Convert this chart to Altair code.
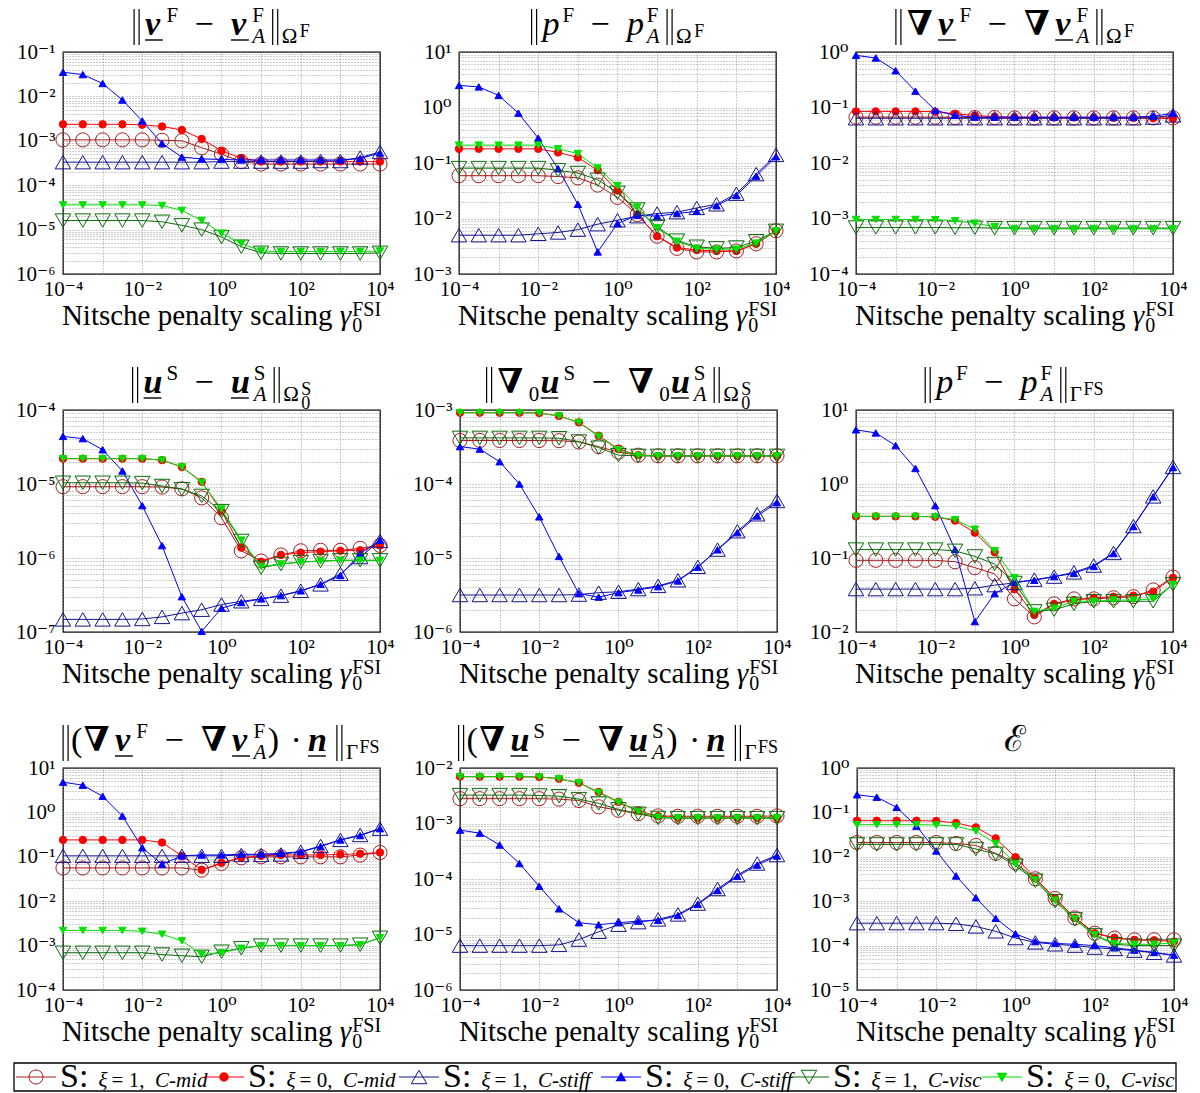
import math
import altair as alt
import pandas as pd

# ---------------------------------------------------------------- data
X_GAMMA = [0.0001, 0.000316, 0.001, 0.00316, 0.01, 0.0316, 0.1, 0.316, 1, 3.16,
           10, 31.6, 100, 316, 1000, 3160, 10000]

SERIES = ["xi1_mid", "xi0_mid", "xi1_stiff", "xi0_stiff", "xi1_visc", "xi0_visc"]

ERR_V_FLUID = {
    "xi1_mid": [1.05e-3, 1.05e-3, 1.05e-3, 1.05e-3, 1.05e-3, 1.03e-3, 1.0e-3, 7.0e-4, 5.0e-4, 3.4e-4, 3.0e-4, 3.0e-4, 3.0e-4, 3.0e-4, 3.0e-4, 3.0e-4, 3.0e-4],
    "xi0_mid": [2.35e-3, 2.35e-3, 2.35e-3, 2.35e-3, 2.3e-3, 2.1e-3, 1.75e-3, 1.1e-3, 5.9e-4, 4.1e-4, 3.4e-4, 3.4e-4, 3.4e-4, 3.4e-4, 3.4e-4, 3.4e-4, 3.4e-4],
    "xi1_stiff": [3.3e-4, 3.3e-4, 3.3e-4, 3.3e-4, 3.3e-4, 3.3e-4, 3.3e-4, 3.3e-4, 3.4e-4, 3.4e-4, 3.4e-4, 3.4e-4, 3.4e-4, 3.5e-4, 3.5e-4, 4.2e-4, 5.6e-4],
    "xi0_stiff": [3.5e-2, 3.1e-2, 1.95e-2, 8.3e-3, 2.8e-3, 8.7e-4, 4.3e-4, 3.9e-4, 3.8e-4, 3.7e-4, 3.7e-4, 3.7e-4, 3.7e-4, 3.7e-4, 3.7e-4, 4.0e-4, 5.3e-4],
    "xi1_visc": [1.6e-5, 1.6e-5, 1.6e-5, 1.6e-5, 1.6e-5, 1.5e-5, 1.25e-5, 1.0e-5, 6.8e-6, 4.1e-6, 3.0e-6, 2.9e-6, 2.9e-6, 2.9e-6, 2.9e-6, 2.9e-6, 3.0e-6],
    "xi0_visc": [3.6e-5, 3.6e-5, 3.6e-5, 3.6e-5, 3.6e-5, 3.5e-5, 2.7e-5, 1.6e-5, 8.3e-6, 4.9e-6, 3.3e-6, 3.2e-6, 3.2e-6, 3.2e-6, 3.2e-6, 3.2e-6, 3.3e-6],
}
ERR_P_FLUID = {
    "xi1_mid": [0.059, 0.059, 0.059, 0.059, 0.059, 0.057, 0.054, 0.040, 0.024, 0.0118, 0.0048, 0.0029, 0.0025, 0.0025, 0.0026, 0.0035, 0.006],
    "xi0_mid": [0.18, 0.18, 0.18, 0.18, 0.18, 0.155, 0.126, 0.074, 0.032, 0.0118, 0.0048, 0.0030, 0.0027, 0.0026, 0.0026, 0.0035, 0.006],
    "xi1_stiff": [0.005, 0.005, 0.005, 0.005, 0.0053, 0.0056, 0.0063, 0.0079, 0.0093, 0.011, 0.0123, 0.013, 0.0155, 0.018, 0.028, 0.063, 0.14],
    "xi0_stiff": [2.5, 2.35, 1.65, 0.79, 0.28, 0.079, 0.018, 0.0025, 0.0081, 0.0115, 0.011, 0.0123, 0.0135, 0.017, 0.026, 0.058, 0.13],
    "xi1_visc": [0.081, 0.081, 0.081, 0.081, 0.081, 0.074, 0.066, 0.05, 0.029, 0.0145, 0.0071, 0.004, 0.0031, 0.0029, 0.003, 0.0039, 0.006],
    "xi0_visc": [0.21, 0.21, 0.21, 0.21, 0.21, 0.18, 0.148, 0.081, 0.039, 0.016, 0.0068, 0.0039, 0.0029, 0.0028, 0.0028, 0.0036, 0.006],
}
ERR_GRADV_FLUID = {
    "xi1_mid": [0.067, 0.067, 0.067, 0.067, 0.067, 0.066, 0.066, 0.066, 0.065, 0.065, 0.065, 0.065, 0.065, 0.065, 0.065, 0.065, 0.065],
    "xi0_mid": [0.085, 0.085, 0.085, 0.085, 0.084, 0.077, 0.072, 0.068, 0.067, 0.066, 0.066, 0.066, 0.066, 0.065, 0.065, 0.064, 0.063],
    "xi1_stiff": [0.064, 0.064, 0.064, 0.064, 0.064, 0.064, 0.064, 0.064, 0.064, 0.064, 0.064, 0.064, 0.064, 0.064, 0.064, 0.066, 0.072],
    "xi0_stiff": [0.87, 0.78, 0.46, 0.197, 0.089, 0.072, 0.067, 0.067, 0.067, 0.067, 0.067, 0.067, 0.067, 0.067, 0.067, 0.070, 0.078],
    "xi1_visc": [6.9e-4, 6.9e-4, 6.9e-4, 6.9e-4, 6.9e-4, 6.8e-4, 6.8e-4, 6.7e-4, 6.7e-4, 6.7e-4, 6.7e-4, 6.7e-4, 6.7e-4, 6.7e-4, 6.7e-4, 6.7e-4, 6.7e-4],
    "xi0_visc": [9.6e-4, 9.6e-4, 9.6e-4, 9.6e-4, 9.5e-4, 9.1e-4, 8.2e-4, 7.1e-4, 6.5e-4, 6.5e-4, 6.5e-4, 6.5e-4, 6.5e-4, 6.5e-4, 6.5e-4, 6.5e-4, 6.5e-4],
}
ERR_U_SOLID = {
    "xi1_mid": [9.2e-6, 9.2e-6, 9.2e-6, 9.2e-6, 9.2e-6, 9.1e-6, 8.6e-6, 6.5e-6, 3.5e-6, 1.25e-6, 9.1e-7, 1.1e-6, 1.25e-6, 1.27e-6, 1.27e-6, 1.35e-6, 1.48e-6],
    "xi0_mid": [2.2e-5, 2.2e-5, 2.2e-5, 2.2e-5, 2.2e-5, 2.1e-5, 1.7e-5, 1.07e-5, 4.3e-6, 1.38e-6, 8.9e-7, 1.1e-6, 1.18e-6, 1.22e-6, 1.25e-6, 1.27e-6, 1.48e-6],
    "xi1_stiff": [1.48e-7, 1.48e-7, 1.48e-7, 1.48e-7, 1.5e-7, 1.6e-7, 1.8e-7, 2.0e-7, 2.35e-7, 2.6e-7, 2.8e-7, 3.1e-7, 3.6e-7, 4.4e-7, 6.1e-7, 1.03e-6, 1.7e-6],
    "xi0_stiff": [4.4e-5, 4.1e-5, 2.9e-5, 1.5e-5, 5.1e-6, 1.47e-6, 3.0e-7, 1.02e-7, 2.1e-7, 2.5e-7, 2.8e-7, 3.1e-7, 3.6e-7, 4.4e-7, 5.8e-7, 1.15e-6, 1.74e-6],
    "xi1_visc": [1.04e-5, 1.04e-5, 1.04e-5, 1.04e-5, 1.03e-5, 9.4e-6, 8.5e-6, 6.9e-6, 4.3e-6, 1.7e-6, 7.4e-7, 8.3e-7, 8.8e-7, 9.1e-7, 9.3e-7, 9.3e-7, 9.3e-7],
    "xi0_visc": [2.2e-5, 2.2e-5, 2.2e-5, 2.2e-5, 2.2e-5, 2.1e-5, 1.7e-5, 1.05e-5, 4.6e-6, 1.74e-6, 7.7e-7, 8.3e-7, 8.8e-7, 9.1e-7, 9.3e-7, 9.3e-7, 9.3e-7],
}
ERR_GRADU_SOLID = {
    "xi1_mid": [3.87e-4, 3.87e-4, 3.87e-4, 3.87e-4, 3.87e-4, 3.85e-4, 3.7e-4, 3.2e-4, 2.7e-4, 2.45e-4, 2.4e-4, 2.4e-4, 2.4e-4, 2.4e-4, 2.4e-4, 2.4e-4, 2.4e-4],
    "xi0_mid": [9.2e-4, 9.2e-4, 9.2e-4, 9.2e-4, 9.1e-4, 8.3e-4, 6.8e-4, 4.5e-4, 2.96e-4, 2.45e-4, 2.4e-4, 2.4e-4, 2.4e-4, 2.4e-4, 2.4e-4, 2.4e-4, 2.4e-4],
    "xi1_stiff": [3.16e-6, 3.16e-6, 3.16e-6, 3.16e-6, 3.16e-6, 3.16e-6, 3.2e-6, 3.4e-6, 3.5e-6, 3.8e-6, 4.2e-6, 5.0e-6, 7.6e-6, 1.3e-5, 2.3e-5, 3.9e-5, 5.9e-5],
    "xi0_stiff": [3.2e-4, 2.96e-4, 2.0e-4, 1.0e-4, 3.6e-5, 1.05e-5, 3.3e-6, 2.96e-6, 3.4e-6, 3.7e-6, 4.1e-6, 4.9e-6, 7.5e-6, 1.29e-5, 2.2e-5, 3.7e-5, 5.6e-5],
    "xi1_visc": [4.2e-4, 4.2e-4, 4.2e-4, 4.2e-4, 4.2e-4, 4.15e-4, 3.75e-4, 3.1e-4, 2.45e-4, 2.4e-4, 2.4e-4, 2.4e-4, 2.4e-4, 2.4e-4, 2.4e-4, 2.4e-4, 2.4e-4],
    "xi0_visc": [9.2e-4, 9.2e-4, 9.2e-4, 9.2e-4, 9.1e-4, 8.3e-4, 6.8e-4, 4.4e-4, 2.9e-4, 2.42e-4, 2.4e-4, 2.4e-4, 2.4e-4, 2.4e-4, 2.4e-4, 2.4e-4, 2.4e-4],
}
ERR_P_INTERFACE = {
    "xi1_mid": [0.093, 0.093, 0.093, 0.093, 0.093, 0.089, 0.074, 0.061, 0.028, 0.016, 0.024, 0.028, 0.028, 0.029, 0.030, 0.037, 0.055],
    "xi0_mid": [0.365, 0.365, 0.365, 0.365, 0.36, 0.32, 0.22, 0.12, 0.038, 0.017, 0.024, 0.027, 0.029, 0.030, 0.031, 0.035, 0.054],
    "xi1_stiff": [0.038, 0.038, 0.038, 0.038, 0.038, 0.038, 0.039, 0.043, 0.046, 0.051, 0.056, 0.064, 0.079, 0.117, 0.27, 0.68, 1.7],
    "xi0_stiff": [5.4, 4.9, 3.3, 1.62, 0.51, 0.13, 0.0138, 0.033, 0.047, 0.050, 0.056, 0.062, 0.077, 0.115, 0.266, 0.67, 1.67],
    "xi1_visc": [0.13, 0.13, 0.13, 0.13, 0.13, 0.125, 0.105, 0.083, 0.046, 0.019, 0.02, 0.024, 0.026, 0.026, 0.026, 0.026, 0.044],
    "xi0_visc": [0.365, 0.365, 0.365, 0.365, 0.36, 0.33, 0.245, 0.125, 0.054, 0.019, 0.021, 0.026, 0.026, 0.027, 0.027, 0.028, 0.044],
}
ERR_TRACTION_FLUID = {
    "xi1_mid": [0.056, 0.056, 0.056, 0.056, 0.056, 0.056, 0.056, 0.05, 0.071, 0.095, 0.1, 0.1, 0.1, 0.1, 0.1, 0.109, 0.125],
    "xi0_mid": [0.24, 0.24, 0.24, 0.24, 0.24, 0.21, 0.105, 0.051, 0.073, 0.096, 0.105, 0.11, 0.11, 0.11, 0.113, 0.117, 0.125],
    "xi1_stiff": [0.105, 0.105, 0.105, 0.105, 0.105, 0.105, 0.105, 0.105, 0.105, 0.11, 0.11, 0.113, 0.13, 0.175, 0.24, 0.31, 0.43],
    "xi0_stiff": [4.8, 4.1, 2.3, 0.83, 0.16, 0.068, 0.105, 0.11, 0.11, 0.114, 0.114, 0.12, 0.13, 0.17, 0.24, 0.30, 0.43],
    "xi1_visc": [6.9e-4, 6.9e-4, 6.9e-4, 6.9e-4, 6.9e-4, 6.3e-4, 5.9e-4, 5.6e-4, 7.3e-4, 8.7e-4, 1.0e-3, 1.0e-3, 1.0e-3, 1.0e-3, 1.0e-3, 1.05e-3, 1.5e-3],
    "xi0_visc": [2.2e-3, 2.2e-3, 2.2e-3, 2.2e-3, 2.1e-3, 1.8e-3, 1.28e-3, 6.3e-4, 6.9e-4, 8.7e-4, 1.0e-3, 1.0e-3, 1.0e-3, 1.0e-3, 1.0e-3, 1.05e-3, 1.5e-3],
}
ERR_TRACTION_SOLID = {
    "xi1_mid": [2.8e-3, 2.8e-3, 2.8e-3, 2.8e-3, 2.8e-3, 2.75e-3, 2.6e-3, 2.0e-3, 1.73e-3, 1.5e-3, 1.37e-3, 1.35e-3, 1.35e-3, 1.35e-3, 1.35e-3, 1.35e-3, 1.37e-3],
    "xi0_mid": [7.0e-3, 7.0e-3, 7.0e-3, 7.0e-3, 6.9e-3, 6.4e-3, 5.4e-3, 3.7e-3, 2.45e-3, 1.68e-3, 1.36e-3, 1.26e-3, 1.26e-3, 1.26e-3, 1.26e-3, 1.26e-3, 1.26e-3],
    "xi1_stiff": [6.3e-6, 6.3e-6, 6.3e-6, 6.3e-6, 6.3e-6, 6.5e-6, 8.1e-6, 1.12e-5, 1.5e-5, 1.67e-5, 1.87e-5, 2.3e-5, 3.6e-5, 6.6e-5, 1.17e-4, 1.9e-4, 2.7e-4],
    "xi0_stiff": [7.6e-4, 6.7e-4, 4.1e-4, 1.9e-4, 7.4e-5, 2.9e-5, 1.63e-5, 1.5e-5, 1.63e-5, 1.74e-5, 1.8e-5, 2.2e-5, 3.5e-5, 6.2e-5, 1.12e-4, 1.78e-4, 2.6e-4],
    "xi1_visc": [3.25e-3, 3.25e-3, 3.25e-3, 3.25e-3, 3.2e-3, 3.1e-3, 2.75e-3, 2.3e-3, 1.8e-3, 1.5e-3, 1.26e-3, 1.25e-3, 1.25e-3, 1.25e-3, 1.25e-3, 1.25e-3, 1.25e-3],
    "xi0_visc": [7.0e-3, 7.0e-3, 7.0e-3, 7.0e-3, 6.9e-3, 6.4e-3, 5.4e-3, 3.6e-3, 2.4e-3, 1.65e-3, 1.3e-3, 1.26e-3, 1.26e-3, 1.26e-3, 1.26e-3, 1.26e-3, 1.26e-3],
}
ERR_ENERGY = {
    "xi1_mid": [0.021, 0.021, 0.021, 0.021, 0.021, 0.020, 0.018, 0.012, 7.3e-3, 3.2e-3, 1.15e-3, 4.2e-4, 1.9e-4, 1.48e-4, 1.35e-4, 1.35e-4, 1.35e-4],
    "xi0_mid": [0.065, 0.065, 0.065, 0.065, 0.064, 0.058, 0.046, 0.026, 0.0098, 3.3e-3, 1.15e-3, 4.2e-4, 1.9e-4, 1.5e-4, 1.35e-4, 1.32e-4, 1.23e-4],
    "xi1_stiff": [3.2e-4, 3.2e-4, 3.2e-4, 3.2e-4, 3.2e-4, 3.1e-4, 2.7e-4, 2.1e-4, 1.48e-4, 1.18e-4, 1.07e-4, 1.0e-4, 9.0e-5, 8.4e-5, 7.7e-5, 6.9e-5, 6.0e-5],
    "xi0_stiff": [0.25, 0.22, 0.13, 0.049, 0.0135, 3.7e-3, 1.2e-3, 4.1e-4, 1.84e-4, 1.23e-4, 1.12e-4, 1.07e-4, 1.0e-4, 8.9e-5, 7.9e-5, 7.0e-5, 6.1e-5],
    "xi1_visc": [0.019, 0.019, 0.019, 0.019, 0.019, 0.019, 0.015, 0.0116, 6.3e-3, 2.9e-3, 1.0e-3, 3.9e-4, 1.7e-4, 1.07e-4, 1.0e-4, 1.0e-4, 1.0e-4],
    "xi0_visc": [0.053, 0.053, 0.053, 0.053, 0.052, 0.049, 0.038, 0.02, 6.9e-3, 3.0e-3, 1.05e-3, 4.0e-4, 1.75e-4, 1.12e-4, 1.07e-4, 1.07e-4, 1.15e-4],
}

Y_DOMAINS = [[1e-6, 1e-1], [1e-3, 1e1], [1e-4, 1e0],
             [1e-7, 1e-4], [1e-6, 1e-3], [1e-2, 1e1],
             [1e-4, 1e1], [1e-6, 1e-2], [1e-5, 1e0]]

LEGEND_XI = ["1", "0", "1", "0", "1", "0"]
LEGEND_CASE = ["C-mid", "C-mid", "C-stiff", "C-stiff", "C-visc", "C-visc"]

# ---------------------------------------------------------------- styles
STYLE = {
    "xi1_mid": dict(color="#a51d1d", shape="circle", size=200, filled=False),
    "xi0_mid": dict(color="#ff0000", shape="circle", size=55, filled=True),
    "xi1_stiff": dict(color="#14148c", shape="triangle-up", size=240, filled=False),
    "xi0_stiff": dict(color="#0000ff", shape="triangle-up", size=55, filled=True),
    "xi1_visc": dict(color="#0b6b0b", shape="triangle-down", size=240, filled=False),
    "xi0_visc": dict(color="#00e000", shape="triangle-down", size=55, filled=True),
}
FONT = "'Liberation Serif', 'DejaVu Serif', serif"
PW, PH = 317, 222
M, S1, S2 = 34, 21, 18
SUP, SUB = -13, 8
WSCALE = 1.12

W_TAB = {
    "r": {' ': 250, '(': 333, ')': 333, '|': 200, '−': 564, '·': 250, '=': 564, ',': 250, ':': 278,
          '0': 500, '1': 500, 'F': 556, 'S': 556, 'I': 333, 'Ω': 768, 'Γ': 578, 'N': 722,
          'i': 278, 't': 278, 's': 389, 'c': 444, 'h': 500, 'e': 444, 'p': 500, 'n': 500,
          'a': 444, 'l': 278, 'y': 500, 'g': 500, 'ℰ': 640},
    "i": {'p': 520, 'A': 611, 'v': 444, 'γ': 430, 'ξ': 440, 'C': 667, '-': 333, 'm': 722,
          'i': 278, 'd': 500, 's': 389, 't': 278, 'f': 278, 'c': 444},
    "bi": {'v': 560, 'u': 600, 'n': 600},
    "b": {'∇': 820},
}


def advance(text, style, size):
    tab = W_TAB[style]
    return sum(tab.get(ch, W_TAB["r"].get(ch, 500)) for ch in text) * size / 1000.0


def T(text, style="r", size=M, dy=0, ul=False, ws=1.0):
    return {"t": text, "st": style, "fs": size, "dy": dy, "ul": ul, "ws": ws}


def G(px):
    return {"gap": px}


def ST(*toks):
    return {"stack": list(toks)}


BARS = {"bars": 10}

DUMMY = pd.DataFrame({"k": [0]})


def text_mark(x, y, text, size, style):
    kw = dict(text=text, fontSize=size, font=FONT, align="left",
              baseline="alphabetic", color="black")
    if style in ("i", "bi"):
        kw["fontStyle"] = "italic"
    if style in ("b", "bi"):
        kw["fontWeight"] = "bold"
    return alt.Chart(DUMMY).mark_text(**kw).encode(x=alt.value(round(x, 1)), y=alt.value(round(y, 1)))


def hline(x1, x2, y, width=1.4):
    return alt.Chart(DUMMY).mark_rule(color="black", strokeWidth=width).encode(
        x=alt.value(round(x1, 1)), x2=alt.value(round(x2, 1)), y=alt.value(round(y, 1)))


def vline(x, y1, y2, width=1.2):
    return alt.Chart(DUMMY).mark_rule(color="black", strokeWidth=width).encode(
        x=alt.value(round(x, 1)), y=alt.value(round(y1, 1)), y2=alt.value(round(y2, 1)))


def tok_w(tk):
    if "gap" in tk:
        return tk["gap"]
    if "bars" in tk:
        return tk["bars"]
    if "stack" in tk:
        return max(advance(s["t"], s["st"], s["fs"]) * s["ws"] for s in tk["stack"])
    return advance(tk["t"], tk["st"], tk["fs"]) * tk["ws"]


def rich_text(tokens, x_anchor, base_y, centered=True):
    total = sum(tok_w(tk) for tk in tokens)
    x = x_anchor - total / 2.0 if centered else x_anchor
    out = []
    for tk in tokens:
        w = tok_w(tk)
        if "bars" in tk:
            out.append(vline(x + 2, base_y - 26, base_y + 10))
            out.append(vline(x + 7, base_y - 26, base_y + 10))
        elif "gap" not in tk:
            parts = tk["stack"] if "stack" in tk else [tk]
            for p in parts:
                out.append(text_mark(x, base_y + p["dy"], p["t"], p["fs"], p["st"]))
                if p.get("ul"):
                    gw = advance(p["t"], "r", p["fs"]) * 1.05
                    out.append(hline(x, x + gw, base_y + 5))
        x += w
    return out


def TT(text, style="r", size=M, dy=0, ul=False):
    """title glyph: spaced slightly wider, like the math font of the original"""
    return T(text, style, size, dy, ul, WSCALE)


MINUS = [G(15), TT("−"), G(15)]
DOT = [G(10), TT("·"), G(8)]


def sup(s):
    return TT(s, "r", S1, SUP)


def sub(s, style="r"):
    return TT(s, style, S1, SUB)


def stack_A(s):
    return ST(TT(s, "r", S1, SUP), TT("A", "i", S1, SUB))


OMEGA_F = [TT("Ω", "r", S1, 8), TT("F", "r", S2, 2)]
OMEGA_0S = [TT("Ω", "r", S1, 8), ST(TT("S", "r", S2, 2), TT("0", "r", S2, 16))]
GAMMA_FS = [TT("Γ", "r", S1, 8), TT("FS", "r", S2, 2)]
NABLA = TT("∇", "b")
V = TT("v", "bi", ul=True)
U = TT("u", "bi", ul=True)
N = TT("n", "bi", ul=True)
P = TT("p", "i")
OPEN = [BARS, G(3)]
CLOSE = [G(4), BARS, G(1)]

TITLES = [
    [*OPEN, V, sup("F"), *MINUS, V, stack_A("F"), *CLOSE, *OMEGA_F],
    [*OPEN, P, sup("F"), *MINUS, P, stack_A("F"), *CLOSE, *OMEGA_F],
    [*OPEN, NABLA, V, sup("F"), *MINUS, NABLA, V, stack_A("F"), *CLOSE, *OMEGA_F],
    [*OPEN, U, sup("S"), *MINUS, U, stack_A("S"), *CLOSE, *OMEGA_0S],
    [*OPEN, NABLA, sub("0"), U, sup("S"), *MINUS, NABLA, sub("0"), U, stack_A("S"), *CLOSE, *OMEGA_0S],
    [*OPEN, P, sup("F"), *MINUS, P, stack_A("F"), *CLOSE, *GAMMA_FS],
    [BARS, TT("("), NABLA, V, sup("F"), *MINUS, NABLA, V, stack_A("F"), TT(")"),
     *DOT, N, *CLOSE, *GAMMA_FS],
    [BARS, TT("("), NABLA, U, sup("S"), *MINUS, NABLA, U, stack_A("S"), TT(")"),
     *DOT, N, *CLOSE, *GAMMA_FS],
    [T("ℰ", "r", 36)],
]

XLABEL = [T("Nitsche penalty scaling ", "r", 29), T("γ", "i", 29),
          ST(T("0", "r", 20, 7), T("FSI", "r", 20, -9))]

# ---------------------------------------------------------------- axes
EXP = "toString(round(log(datum.value)/LN10))"
_s = EXP
for a, b in [('-', '⁻'), ('0', '⁰'), ('1', '¹'), ('2', '²'), ('3', '³'), ('4', '⁴'),
             ('5', '⁵'), ('6', '⁶'), ('7', '⁷'), ('8', '⁸'), ('9', '⁹')]:
    _s = f"replace({_s}, '{a}', '{b}')"
POW_LABEL = "'10' + " + _s
Y_LABEL_EXPR = f"abs(log(datum.value)/LN10 - round(log(datum.value)/LN10)) < 0.001 ? {POW_LABEL} : ''"
X_LABEL_EXPR = f"(round(log(datum.value)/LN10) % 2 == 0) ? {POW_LABEL} : ''"

X_GRID = [1e-4, 1e-3, 1e-2, 1e-1, 1e0, 1e1, 1e2, 1e3, 1e4]


def y_grid(dom):
    lo = round(math.log10(dom[0]))
    hi = round(math.log10(dom[1]))
    vals = []
    for e in range(lo, hi):
        for k in range(1, 10):
            vals.append(float(f"{k}e{e}"))
    vals.append(float(f"1e{hi}"))
    return vals


AXIS_COMMON = dict(title=None, grid=True, gridDash=[1, 2], gridColor="#808080", gridWidth=0.8,
                   ticks=False, domain=False, labelFont=FONT, labelFontSize=21,
                   labelColor="black", labelOverlap=False)


def build_panel(values, ydom, title_tokens):
    xsc = alt.Scale(type="log", domain=[1e-4, 1e4], nice=False)
    ysc = alt.Scale(type="log", domain=ydom, nice=False)
    xaxis = alt.Axis(values=X_GRID, labelExpr=X_LABEL_EXPR, labelFlush=False, labelPadding=4, **AXIS_COMMON)
    yaxis = alt.Axis(values=y_grid(ydom), labelExpr=Y_LABEL_EXPR, labelPadding=8, **AXIS_COMMON)
    layers = []
    for key in SERIES:
        st = STYLE[key]
        df = pd.DataFrame({"x": X_GAMMA, "y": values[key]})
        enc = dict(x=alt.X("x:Q", scale=xsc, axis=xaxis), y=alt.Y("y:Q", scale=ysc, axis=yaxis))
        layers.append(alt.Chart(df).mark_line(color=st["color"], strokeWidth=1).encode(**enc))
        if st["filled"]:
            pt = alt.Chart(df).mark_point(shape=st["shape"], size=st["size"], filled=True,
                                          fill=st["color"], stroke=st["color"], strokeWidth=1,
                                          opacity=1)
        else:
            pt = alt.Chart(df).mark_point(shape=st["shape"], size=st["size"], filled=False,
                                          stroke=st["color"], strokeWidth=1, opacity=1)
        layers.append(pt.encode(**enc))
    layers += rich_text(title_tokens, PW / 2.0, -17)
    layers += rich_text(XLABEL, PW / 2.0, PH + 51)
    return alt.layer(*layers).properties(width=PW, height=PH)


DATASETS = [ERR_V_FLUID, ERR_P_FLUID, ERR_GRADV_FLUID, ERR_U_SOLID, ERR_GRADU_SOLID,
            ERR_P_INTERFACE, ERR_TRACTION_FLUID, ERR_TRACTION_SOLID, ERR_ENERGY]
panels = [build_panel(d, yd, t) for d, yd, t in zip(DATASETS, Y_DOMAINS, TITLES)]

rows = [alt.hconcat(*panels[i:i + 3], spacing=16) for i in (0, 3, 6)]
grid = alt.vconcat(*rows, spacing=25)

# ---------------------------------------------------------------- legend
# the legend view is aligned with the first plot area; the frame hangs 49 px to its left
LEG_LEFT, LEG_W, LEG_H = -49, 1113, 28
LEG_START = [-47, 141, 336, 538, 726, 919]
leg_layers = [alt.Chart(DUMMY).mark_rect(fill="white", stroke="black", strokeWidth=1.3).encode(
    x=alt.value(LEG_LEFT), x2=alt.value(LEG_W), y=alt.value(0), y2=alt.value(LEG_H))]
for key, s0, xi, case in zip(SERIES, LEG_START, LEGEND_XI, LEGEND_CASE):
    st = STYLE[key]
    leg_layers.append(alt.Chart(DUMMY).mark_rule(color=st["color"], strokeWidth=1).encode(
        x=alt.value(s0), x2=alt.value(s0 + 40), y=alt.value(LEG_H / 2)))
    if st["filled"]:
        mk = alt.Chart(DUMMY).mark_point(shape=st["shape"], size=st["size"], filled=True,
                                         fill=st["color"], stroke=st["color"], opacity=1)
    else:
        mk = alt.Chart(DUMMY).mark_point(shape=st["shape"], size=st["size"], filled=False,
                                         stroke=st["color"], strokeWidth=1, opacity=1)
    leg_layers.append(mk.encode(x=alt.value(s0 + 20), y=alt.value(LEG_H / 2)))
    leg_layers += rich_text([T("S:", "r", 34), G(10), T("ξ", "i", 21), G(4), T(" = " + xi + ", ", "r", 21),
                             T(case, "i", 21)], s0 + 44, 24, centered=False)
legend = alt.layer(*leg_layers).properties(width=LEG_W, height=LEG_H,
                                           view=alt.ViewBackground(stroke="transparent"))

chart = alt.vconcat(grid, legend, spacing=6).properties(
    padding={"left": 12, "top": 4, "right": 2, "bottom": 0},
    background="white",
).configure_view(stroke="black", strokeWidth=1.3)

chart.save("out.html", embed_options={"renderer": "svg", "actions": False})
